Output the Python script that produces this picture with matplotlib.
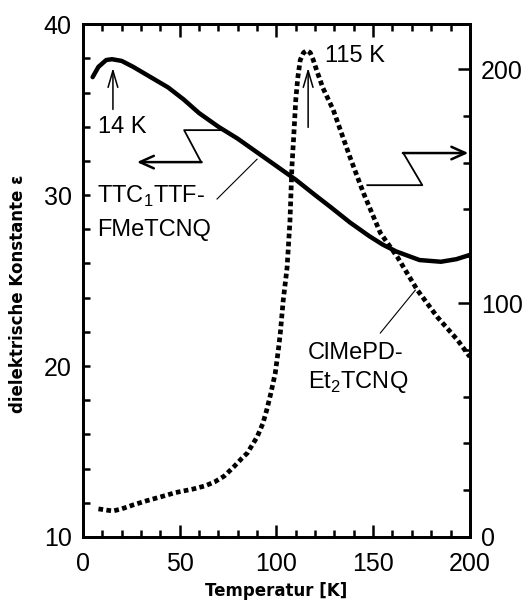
import matplotlib
matplotlib.use('Agg')
import matplotlib.pyplot as plt
from matplotlib.ticker import MultipleLocator

plt.rcParams['font.family'] = ['Liberation Sans', 'DejaVu Sans']
plt.rcParams['mathtext.fontset'] = 'custom'
plt.rcParams['mathtext.rm'] = 'Liberation Sans'

# TTC1TTF-FMeTCNQ (linke Achse)
temp_ttf = [5, 8, 12, 15, 20, 26, 35, 44, 52, 60, 70, 80, 90, 100, 110, 120,
            128, 138, 148, 155, 162, 174, 185, 193, 200]
eps_ttf = [36.9, 37.5, 37.9, 37.95, 37.85, 37.5, 36.9, 36.3, 35.6, 34.8, 34.0,
           33.3, 32.5, 31.7, 30.9, 30.0, 29.3, 28.4, 27.6, 27.1, 26.7, 26.2,
           26.1, 26.25, 26.5]

# ClMePD-Et2TCNQ (rechte Achse)
temp_cl = [8, 12, 15.5, 20, 26, 33, 40, 48, 57, 63, 68, 73, 78, 82, 85, 88, 90,
           93, 95, 97, 99.4, 101, 102, 103.5, 105.5, 107, 108, 109, 110, 111,
           112.3, 114, 115.8, 117.5, 119, 121, 124, 129.4, 138, 145, 153.7,
           162.5, 172.8, 183.2, 193.6, 200]
eps_cl = [12.0, 11.5, 11.1, 12.0, 13.7, 15.5, 17.1, 19.0, 20.5, 21.8, 23.5,
          26.0, 30.0, 33.5, 35.9, 40.0, 42.7, 48.5, 54.3, 61.0, 70.0, 80.0, 87.0,
          101.0, 115.0, 135.0, 158.0, 172.0, 186.8, 196.0, 203.8, 207.0, 208.0,
          207.0, 204.0, 199.0, 192.0, 182.5, 162.4, 147.0, 130.0, 119.7, 105.6,
          94.0, 84.2, 77.0]

fig = plt.figure(figsize=(5.25, 6.04), dpi=100)
ax = fig.add_axes([0.158, 0.111, 0.737, 0.849])
ax2 = ax.twinx()

ax.plot(temp_ttf, eps_ttf, color='black', lw=3.2, solid_capstyle='round', zorder=3)
ax2.plot(temp_cl, eps_cl, color='black', lw=3.4, dashes=(1, 0.7),
         dash_capstyle='butt', zorder=3)

ax.set_xlim(0, 200)
ax.set_ylim(10, 40)
ax2.set_ylim(0, 219.2)

ax.xaxis.set_major_locator(MultipleLocator(50))
ax.xaxis.set_minor_locator(MultipleLocator(10))
ax.yaxis.set_major_locator(MultipleLocator(10))
ax.yaxis.set_minor_locator(MultipleLocator(2))
ax2.yaxis.set_major_locator(MultipleLocator(100))
ax2.yaxis.set_minor_locator(MultipleLocator(20))

ax.tick_params(axis='x', which='both', direction='in', top=True, width=1.8,
               labelsize=18, pad=11)
ax.tick_params(axis='x', which='major', length=9)
ax.tick_params(axis='x', which='minor', length=5)
ax.tick_params(axis='y', which='both', direction='in', width=1.8, length=5,
               labelsize=18, pad=8)
ax2.tick_params(axis='y', which='both', direction='in', width=1.8,
                labelsize=18, pad=8)
ax2.tick_params(axis='y', which='major', length=9)
ax2.tick_params(axis='y', which='minor', length=5)

for a in (ax, ax2):
    for s in a.spines.values():
        s.set_linewidth(2)

ax.set_xlabel('Temperatur [K]', family='DejaVu Sans', fontweight='bold',
              fontsize=12, labelpad=4)
ax.set_ylabel('dielektrische Konstante ε', family='DejaVu Sans',
              fontweight='bold', fontsize=12)
ax.yaxis.set_label_coords(-0.145, 0.475)

fs = 17
# Beschriftungen
ax.text(20.2, 34.0, '14 K', fontsize=fs, ha='center', va='center')
ax.annotate('', xy=(15.5, 37.6), xytext=(15.5, 34.85),
            arrowprops=dict(arrowstyle='->,head_length=1.2,head_width=0.35',
                            lw=1.1, color='black'))
ax.text(140.7, 38.13, '115 K', fontsize=fs, ha='center', va='center')
ax.annotate('', xy=(116.4, 37.6), xytext=(116.4, 33.8),
            arrowprops=dict(arrowstyle='->,head_length=1.2,head_width=0.35',
                            lw=1.1, color='black'))

ax.text(7.2, 29.9, r'TTC$_\mathregular{1}$TTF-', fontsize=fs, va='center')
ax.text(7.2, 27.95, 'FMeTCNQ', fontsize=fs, va='center')
ax.text(116.4, 20.76, 'ClMePD-', fontsize=fs, va='center')
ax.text(116.4, 19.06, r'Et$_\mathregular{2}$TCNQ', fontsize=fs, va='center')

# Hinweislinien
ax.plot([90, 69.3], [32.1, 29.77], color='black', lw=0.8)
ax.plot([153.7, 171.8], [21.93, 24.44], color='black', lw=0.8)

# Zickzack-Pfeile
ax.plot([72.4, 52.3, 61.1], [33.8, 33.8, 31.93], color='black', lw=1.3)
ax.annotate('', xy=(27.9, 31.93), xytext=(61.3, 31.93),
            arrowprops=dict(arrowstyle='->,head_length=1.0,head_width=0.45',
                            lw=1.8, color='black', shrinkA=0, shrinkB=0))
ax.plot([147, 175.4, 165.6], [30.58, 30.58, 32.46], color='black', lw=1.3)
ax.annotate('', xy=(199.2, 32.46), xytext=(165.4, 32.46),
            arrowprops=dict(arrowstyle='->,head_length=1.0,head_width=0.45',
                            lw=1.8, color='black', shrinkA=0, shrinkB=0))

fig.savefig('out.png', dpi=100)
